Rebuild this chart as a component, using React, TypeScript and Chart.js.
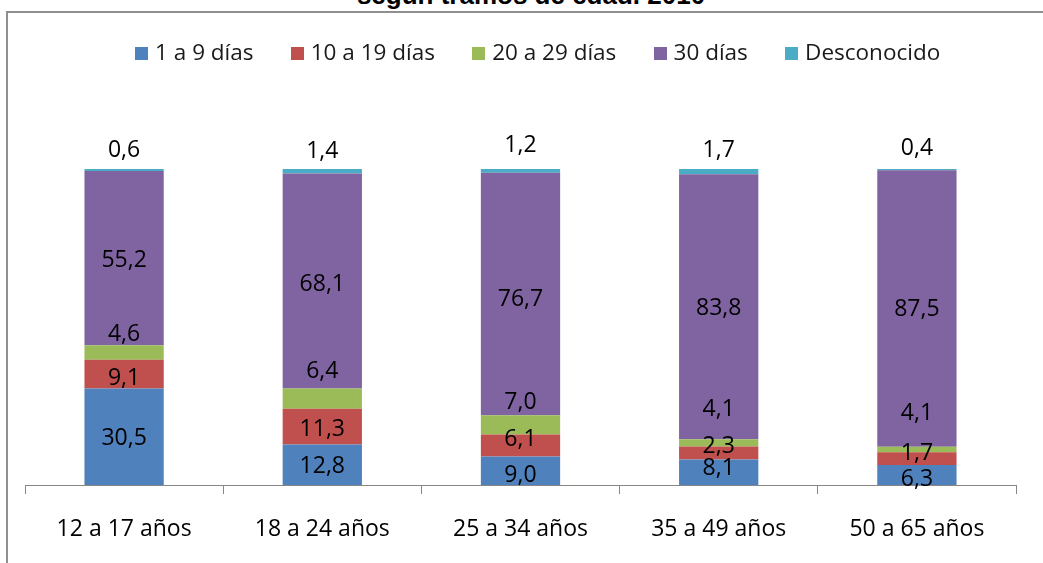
import React, { useEffect, useRef } from "react";
import { Chart, registerables } from "chart.js";

Chart.register(...registerables);

const categories = ["12 a 17 años", "18 a 24 años", "25 a 34 años", "35 a 49 años", "50 a 65 años"];
const seriesNames = ["1 a 9 días", "10 a 19 días", "20 a 29 días", "30 días", "Desconocido"];
const dias1a9 = [30.5, 12.8, 9.0, 8.1, 6.3];
const dias10a19 = [9.1, 11.3, 7.0, 4.1, 4.1];
const dias20a29 = [4.6, 6.4, 6.1, 2.3, 1.7];
const dias30 = [55.2, 68.1, 76.7, 83.8, 87.5];
const desconocido = [0.6, 1.4, 1.2, 1.7, 0.4];
const seriesValues = [dias1a9, dias10a19, dias20a29, dias30, desconocido];
const seriesColors = ["#4F81BD", "#C0504D", "#9BBB59", "#8064A2", "#4BACC6"];
const titleText = "según tramos de edad. 2010";

// label nudges in px (positive = down), as the labels sit in the source picture
const labelNudge = [
  [0, 0, 3, -6, 2],
  [2, 1, -45, -45, -47],
  [-20, -29, 13, 2, 2],
  [0, 1, 3, 0, -1],
  [-21, -20, -26, -21, -23],
];

const FONT = '"Open Sans", sans-serif';

function makeSwatch(color: string): HTMLCanvasElement {
  const c = document.createElement("canvas");
  c.width = 13;
  c.height = 13;
  const g = c.getContext("2d");
  if (g) {
    g.fillStyle = color;
    g.fillRect(0, 0, 13, 13);
  }
  return c;
}

const valueLabels = {
  id: "valueLabels",
  afterDatasetsDraw(chart: any) {
    const ctx = chart.ctx;
    ctx.save();
    ctx.font = `23px ${FONT}`;
    ctx.fillStyle = "#000";
    ctx.textAlign = "center";
    ctx.textBaseline = "middle";
    const last = chart.data.datasets.length - 1;
    chart.data.datasets.forEach((ds: any, di: number) => {
      const meta = chart.getDatasetMeta(di);
      meta.data.forEach((el: any, i: number) => {
        const v = ds.data[i] as number;
        const p = el.getProps(["x", "y", "base"], true);
        const cy = di === last ? p.y : (p.y + p.base) / 2;
        ctx.fillText(v.toFixed(1).replace(".", ","), p.x, cy + 2 + labelNudge[di][i]);
      });
    });
    ctx.restore();
  },
};

export default function App() {
  const canvasRef = useRef<HTMLCanvasElement | null>(null);

  useEffect(() => {
    if (!canvasRef.current) return;
    const swatches = seriesColors.map(makeSwatch);
    const chart = new Chart(canvasRef.current, {
      type: "bar",
      data: {
        labels: categories,
        datasets: seriesValues.map((vals, i) => ({
          label: seriesNames[i],
          data: vals,
          backgroundColor: seriesColors[i],
          borderWidth: 0,
          categoryPercentage: 1,
          barPercentage: 0.4,
          xAxisID: "x",
          yAxisID: "y",
        })),
      },
      options: {
        responsive: false,
        animation: false,
        devicePixelRatio: 1,
        layout: { padding: 0 },
        plugins: {
          title: { display: false },
          tooltip: { enabled: false },
          legend: {
            display: true,
            position: "top",
            align: "center",
            labels: {
              usePointStyle: true,
              pointStyleWidth: 4,
              boxHeight: 13,
              padding: 42,
              color: "#1a1a1a",
              font: { family: FONT, size: 22.5 },
              generateLabels: (ch: any) => {
                const items = Chart.defaults.plugins.legend.labels.generateLabels(ch);
                return items.map((it: any, i: number) => ({
                  ...it,
                  pointStyle: swatches[i],
                }));
              },
            },
          },
        },
        scales: {
          x: {
            stacked: true,
            position: "bottom",
            grid: {
              offset: true,
              drawOnChartArea: false,
              drawTicks: true,
              tickLength: 9,
              color: "#868686",
              lineWidth: 1,
            },
            border: { display: true, color: "#868686", width: 1 },
            ticks: {
              color: "#000",
              font: { family: FONT, size: 23 },
              padding: 22,
              maxRotation: 0,
              autoSkip: false,
            },
            afterFit: (s: any) => {
              s.height = 78;
            },
          },
          x2: {
            type: "category",
            position: "top",
            display: true,
            grid: { display: false },
            ticks: { display: false },
            border: { display: false },
            afterFit: (s: any) => {
              const lh = s.chart.legend ? s.chart.legend.height : 0;
              s.height = Math.max(0, 169 - lh);
            },
          },
          y: {
            stacked: true,
            min: 0,
            max: 100,
            display: true,
            grid: { display: false },
            ticks: { display: false },
            border: { display: false },
            afterFit: (s: any) => {
              s.width = 25;
            },
          },
          yR: {
            type: "linear",
            position: "right",
            display: true,
            grid: { display: false },
            ticks: { display: false },
            border: { display: false },
            afterFit: (s: any) => {
              s.width = 64;
            },
          },
        },
      } as any,
      plugins: [valueLabels],
    });
    return () => chart.destroy();
  }, []);

  return (
    <div
      style={{
        position: "fixed",
        left: 0,
        top: 0,
        width: 1043,
        height: 563,
        overflow: "hidden",
        background: "#fff",
      }}
    >
      <div
        style={{
          position: "absolute",
          left: 6,
          top: 11,
          width: 2000,
          height: 2000,
          border: "2px solid #8f8f8f",
          boxSizing: "border-box",
        }}
      />
      <div
        style={{
          position: "absolute",
          left: 0,
          top: -18,
          width: 1062,
          textAlign: "center",
          font: 'bold 26px "Liberation Sans", Arial, sans-serif',
          lineHeight: "26px",
          color: "#000",
          whiteSpace: "nowrap",
        }}
      >
        {titleText}
      </div>
      <canvas
        ref={canvasRef}
        width={1080}
        height={563}
        style={{ position: "absolute", left: 0, top: 0, width: 1080, height: 563 }}
      />
    </div>
  );
}
